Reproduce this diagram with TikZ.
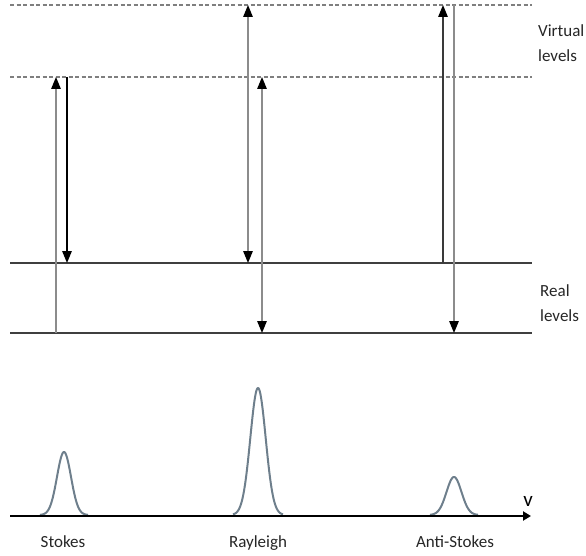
\documentclass[tikz,border=0pt]{standalone}
\usepackage{fontspec}
\setmainfont{Carlito}
\usetikzlibrary{arrows.meta}
\definecolor{levelline}{HTML}{3F3F3F}
\definecolor{dashgray}{HTML}{7F7F7F}
\definecolor{photongray}{HTML}{8C8C8C}
\definecolor{photondark}{HTML}{3A3A3A}
\definecolor{peakcol}{HTML}{6E7F8C}
\definecolor{textgray}{HTML}{262626}
\begin{document}
\begin{tikzpicture}[x=1pt,y=-1pt,
  reallevel/.style={line width=1.2pt, draw=levelline},
  virtlevel/.style={line width=1.2pt, draw=dashgray, dash pattern=on 4pt off 2.5pt},
  up/.style={line width=1.4pt, -{Triangle[width=9.5pt,length=12pt,color=black]}},
  both/.style={line width=1.4pt, {Triangle[width=9.5pt,length=12pt,color=black]}-{Triangle[width=9.5pt,length=12pt,color=black]}},
  lab/.style={font=\fontsize{17}{25}\selectfont, text=textgray, inner sep=0pt, align=left},
  peak/.style={line width=2pt, draw=peakcol, line join=round}]
\useasboundingbox (0,0) rectangle (586,556);

% energy levels
\coordinate (v1l) at (10,5);   \coordinate (v1r) at (532,5);
\coordinate (v2l) at (10,77);  \coordinate (v2r) at (532,77);
\coordinate (r1l) at (10,263); \coordinate (r1r) at (532,263);
\coordinate (r2l) at (10,333); \coordinate (r2r) at (532,333);
\draw[virtlevel] (v1l) -- (v1r);
\draw[virtlevel] (v2l) -- (v2r);
\draw[reallevel] (r1l) -- (r1r);
\draw[reallevel] (r2l) -- (r2r);

\node[lab, anchor=north west] (virtlab) at (538,24.5) {Virtual\\levels};
\node[lab, anchor=north west] (reallab) at (540,284.5) {Real\\levels};

% Stokes transitions
\coordinate (s1a) at (56,333); \coordinate (s1b) at (56,77);
\coordinate (s2a) at (67,77);  \coordinate (s2b) at (67,263);
\draw[up, draw=photongray] (s1a) -- (s1b);
\draw[up, draw=black] (s2a) -- (s2b);

% Rayleigh transitions
\coordinate (r1a) at (248,263); \coordinate (r1b) at (248,5);
\coordinate (r2a) at (262,333); \coordinate (r2b) at (262,77);
\draw[both, draw=photongray] (r1a) -- (r1b);
\draw[both, draw=photongray] (r2a) -- (r2b);

% anti-Stokes transitions
\coordinate (a1a) at (443,263); \coordinate (a1b) at (443,5);
\coordinate (a2a) at (454,5);   \coordinate (a2b) at (454,333);
\draw[up, draw=photondark] (a1a) -- (a1b);
\draw[up, draw=photongray] (a2a) -- (a2b);

% spectrum
\draw[peak, domain=-24:24, samples=80] plot ({64+\x},{515-63*exp(-(\x*\x)/98)});
\draw[peak, domain=-25:25, samples=80] plot ({258+\x},{515-127*exp(-(\x*\x)/118)});
\draw[peak, domain=-24:24, samples=80] plot ({454+\x},{515-38*exp(-(\x*\x)/112)});

\coordinate (ax0) at (10,516);
\coordinate (ax1) at (531,516);
\draw[line width=2.6pt, black, -{Triangle[width=9pt,length=8pt]}] (ax0) -- (ax1);
\node[lab, font=\fontsize{21}{25}\selectfont, text=black, anchor=base] (nu) at (528,506) {v};

\node[lab, anchor=base] (stokes) at (63,547) {Stokes};
\node[lab, anchor=base] (rayleigh) at (258,547) {Rayleigh};
\node[lab, anchor=base] (antistokes) at (455,547) {Anti-Stokes};
\end{tikzpicture}
\end{document}
